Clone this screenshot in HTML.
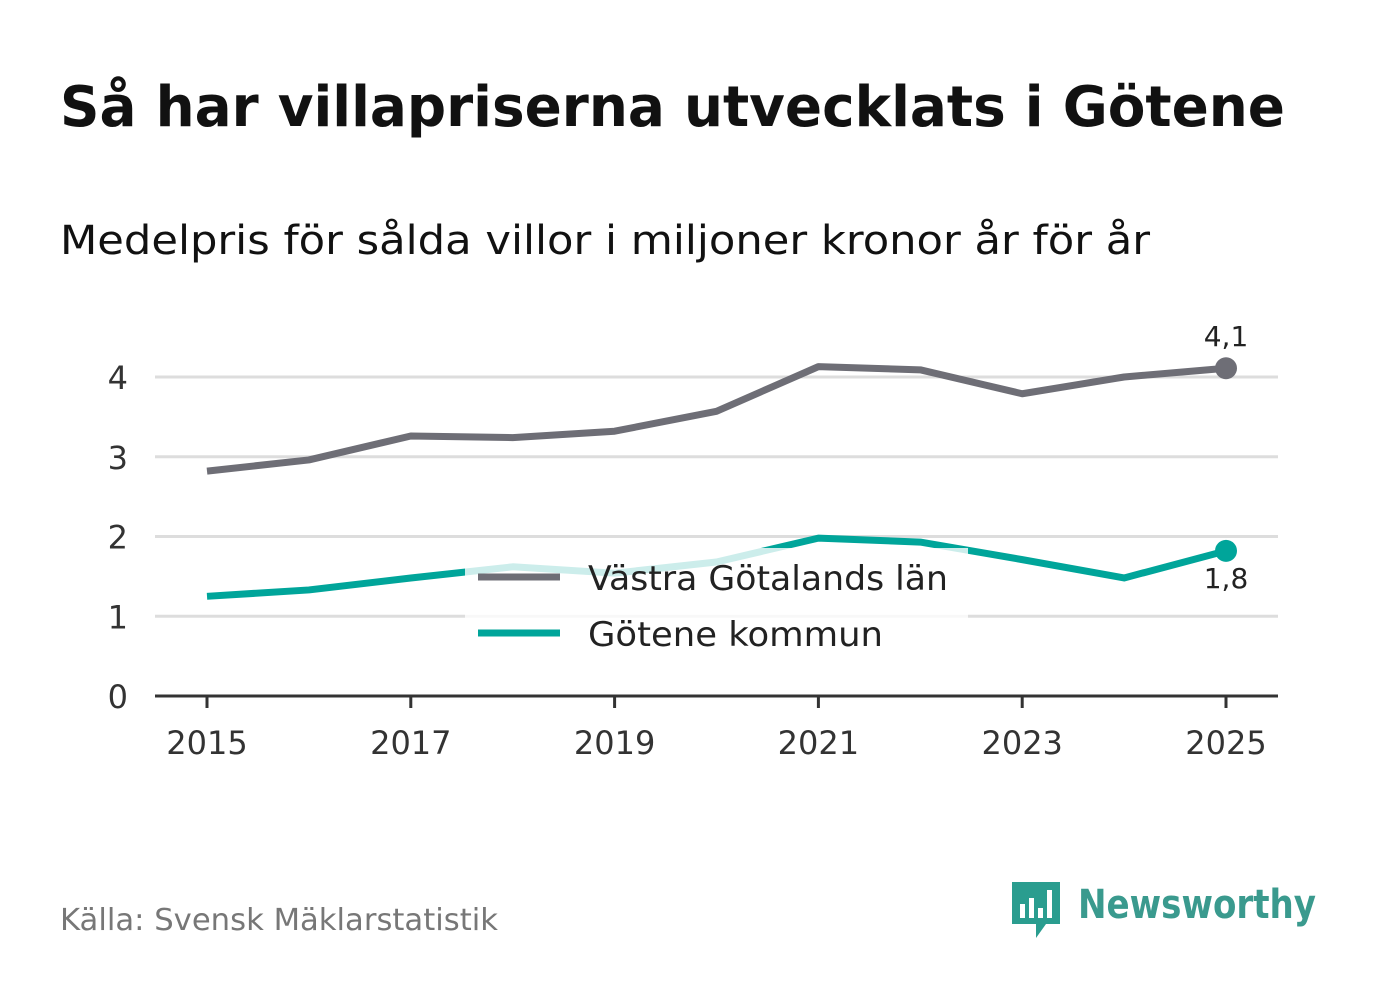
<!DOCTYPE html>
<html><head><meta charset="utf-8"><style>
body{margin:0;background:#fff;font-family:"Liberation Sans","DejaVu Sans",sans-serif;}
svg text{font-family:"DejaVu Sans","Liberation Sans",sans-serif;}
</style></head><body>
<svg id="c" width="1382" height="999" viewBox="0 0 1382 999">
<text x="60" y="126" font-size="56" font-weight="bold" fill="#111" textLength="1225" lengthAdjust="spacingAndGlyphs">Så har villapriserna utvecklats i Götene</text>
<text x="60" y="254" font-size="40" fill="#111" textLength="1090" lengthAdjust="spacingAndGlyphs">Medelpris för sålda villor i miljoner kronor år för år</text>
<g id="grid"></g><g id="series"></g>
<rect x="465" y="548" width="503" height="112" fill="#fff" fill-opacity="0.8"/>
<line x1="478" y1="577" x2="560" y2="577" stroke="#6e6e76" stroke-width="7"/>
<text x="588" y="590" font-size="34" fill="#222" textLength="360" lengthAdjust="spacingAndGlyphs">Västra Götalands län</text>
<line x1="478" y1="633" x2="560" y2="633" stroke="#00a59a" stroke-width="7"/>
<text x="588" y="646" font-size="34" fill="#222" textLength="295" lengthAdjust="spacingAndGlyphs">Götene kommun</text>
<text x="60" y="930" font-size="30" fill="#777" textLength="438" lengthAdjust="spacingAndGlyphs">Källa: Svensk Mäklarstatistik</text>
<g>
<path d="M1012 882h48v42h-14l-10 14v-14h-24z" fill="#2a9d8f"/>
<rect x="1020" y="904" width="5" height="14" fill="#fff"/><rect x="1029" y="898" width="5" height="20" fill="#fff"/><rect x="1038" y="908" width="5" height="10" fill="#fff"/><rect x="1047" y="890" width="5" height="28" fill="#fff"/>
<text x="1078" y="918" font-size="40" font-weight="bold" fill="#3a9a8e" textLength="238" lengthAdjust="spacingAndGlyphs" font-family="Liberation Sans,sans-serif">Newsworthy</text>
</g>
</svg>
<script>
const years=[2015,2016,2017,2018,2019,2020,2021,2022,2023,2024,2025];
const vastra=[2.82,2.96,3.26,3.24,3.32,3.57,4.13,4.09,3.79,4.0,4.11];
const gotene=[1.25,1.33,1.48,1.62,1.54,1.68,1.98,1.93,1.71,1.48,1.82];
const yTicks=[0,1,2,3,4];
const xTicks=[2015,2017,2019,2021,2023,2025];
const NS="http://www.w3.org/2000/svg";
const X=v=>207+(v-2015)*101.9, Y=v=>696-v*79.75;
function mk(t,a,p){const e=document.createElementNS(NS,t);for(const k in a)e.setAttribute(k,a[k]);p.appendChild(e);return e;}
const g=document.getElementById('grid'), s=document.getElementById('series');
yTicks.forEach(v=>{
 if(v>0){const l=mk('line',{x1:155,x2:1278,y1:Y(v),y2:Y(v),stroke:'#ddd','stroke-width':3},g);
 
 }
 const t=mk('text',{x:128,y:Y(v)+12,'font-size':32,fill:'#333','text-anchor':'end'},g);t.textContent=v;
 
 
});
const ax=mk('line',{x1:155,x2:1278,y1:696,y2:696,stroke:'#333','stroke-width':3},g);


xTicks.forEach(v=>{
 const tk=mk('line',{x1:X(v),x2:X(v),y1:696,y2:708,stroke:'#333','stroke-width':3},g);
 
 
 const t=mk('text',{x:X(v),y:754,'font-size':32,fill:'#333','text-anchor':'middle'},g);t.textContent=v;
 
 
});
function line(arr,col,name,dy){
 const p=mk('polyline',{points:arr.map((v,i)=>X(years[i])+','+Y(v)).join(' '),fill:'none',stroke:col,'stroke-width':7,'stroke-linejoin':'round'},s);
 
 
 const n=arr.length-1;
 const c=mk('circle',{cx:X(years[n]),cy:Y(arr[n]),r:11,fill:col},s);
 
 
 const t=mk('text',{x:X(years[n]),y:Y(arr[n])+dy,'font-size':28,fill:'#222','text-anchor':'middle'},s);
 t.textContent=arr[n].toFixed(1).replace('.',',');
 
 
}
line(vastra,'#6e6e76','vastra',-22);
line(gotene,'#00a59a','gotene',37);
</script>
</body></html>
